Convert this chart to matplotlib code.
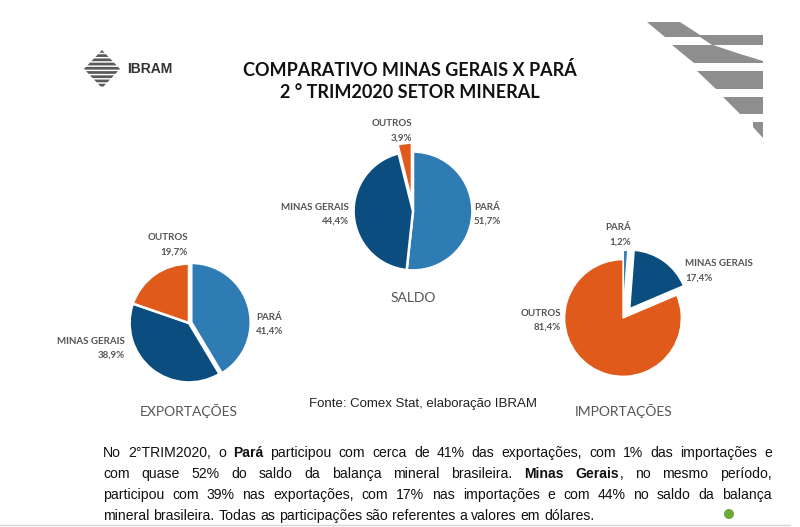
import matplotlib
matplotlib.use("Agg")
import matplotlib.pyplot as plt
from matplotlib.patches import Polygon, Circle

W, H = 800, 527

# dados (% de participação)
categorias = ["PARÁ", "MINAS GERAIS", "OUTROS"]
exportacoes = [41.4, 38.9, 19.7]
importacoes = [1.2, 17.4, 81.4]
saldo = [51.7, 44.4, 3.9]

CORES = ["#2f7bb3", "#0b4d7e", "#e05a1c"]
CINZA_TXT = "#555555"

fig = plt.figure(figsize=(W / 100, H / 100), dpi=100)
fig.patch.set_facecolor("white")


def px(x, y):
    return x / W, 1 - y / H


def ftext(x, y, s, **kw):
    return fig.text(*px(x, y), s, **kw)


def pie_ax(cx, cy, r):
    k = 1.35
    ax = fig.add_axes([(cx - k * r) / W, 1 - (cy + k * r) / H, 2 * k * r / W, 2 * k * r / H])
    ax.set_xlim(-k, k)
    ax.set_ylim(-k, k)
    ax.set_aspect("equal")
    ax.axis("off")
    return ax


def fmt(v):
    return f"{v:.1f}%".replace(".", ",")


def desenha_pizza(valores, cx, cy, r, explode, rotulos, titulo, tpos, lw=1.8):
    ax = pie_ax(cx, cy, r)
    ax.pie(valores, colors=CORES, startangle=90, counterclock=False, explode=explode,
           wedgeprops=dict(edgecolor="white", linewidth=lw))
    for i, (x, y, ha) in enumerate(rotulos):
        ftext(x, y, categorias[i], ha=ha, va="center", fontsize=7, color=CINZA_TXT,
              family="Lato", fontweight="bold")
        ftext(x, y + 14.5, fmt(valores[i]), ha=ha, va="center", fontsize=7, color=CINZA_TXT,
              family="Lato", fontweight="bold")
    ftext(tpos[0], tpos[1], titulo, ha="center", va="center", fontsize=10, color=CINZA_TXT,
          family="Lato")


# posições dos rótulos (x, y, alinhamento) na ordem: Pará, Minas Gerais, Outros
desenha_pizza(saldo, 413, 211, 55, [0.0, 0.0, 0.15],
              [(474, 207, "left"), (349, 207, "right"), (412, 124, "right")],
              "SALDO", (413, 298))
desenha_pizza(exportacoes, 189, 323, 55, [0.04, 0.0, 0.0],
              [(256, 317, "left"), (125, 341, "right"), (188, 238, "right")],
              "EXPORTAÇÕES", (189, 411))
desenha_pizza(importacoes, 623, 318, 54, [0.16, 0.2, 0.0],
              [(631, 228, "right"), (685, 264, "left"), (561, 313, "right")],
              "IMPORTAÇÕES", (624, 411), lw=1.0)

# título
ftext(410, 70, "COMPARATIVO MINAS GERAIS X PARÁ", ha="center", va="center",
      fontsize=13, fontweight="bold", family="Lato", color="#111111")
ftext(410, 92, "2 ° TRIM2020 SETOR MINERAL", ha="center", va="center",
      fontsize=13, fontweight="bold", family="Lato", color="#111111")

# logo IBRAM
deco = fig.add_axes([0, 0, 1, 1], zorder=-1)
deco.set_xlim(0, W)
deco.set_ylim(H, 0)
deco.axis("off")
lx, ly, hw, hh = 102, 69, 18, 19
n = 9
for i in range(n):
    y0 = ly - hh + i * 2 * hh / n
    y1 = y0 + 2 * hh / n * 0.65
    w0 = hw * (1 - abs(y0 - ly) / hh)
    w1 = hw * (1 - abs(y1 - ly) / hh)
    pts = [(lx - w0, y0), (lx + w0, y0)]
    if y0 < ly < y1:
        pts += [(lx + hw, ly)]
    pts += [(lx + w1, y1), (lx - w1, y1)]
    if y0 < ly < y1:
        pts += [(lx - hw, ly)]
    deco.add_patch(Polygon(pts, closed=True, facecolor="#5a5a5a", edgecolor="none"))
ftext(127, 69, "IBRAM", ha="left", va="center", fontsize=10, fontweight="bold",
      family="Liberation Sans", color="#333333")

# grafismo superior direito
cinza = "#8e8e8e"
formas = [
    [(647, 22), (680, 22), (700, 35), (763, 35), (763, 45), (712, 45), (700, 37), (665, 37)],
    [(672, 45), (713, 45), (740, 54), (763, 61), (763, 63), (694, 63)],
    [(697, 71), (763, 71), (763, 89), (716, 89)],
    [(723, 97), (763, 97), (763, 114), (740, 114)],
    [(753, 122), (763, 122), (763, 138), (753, 127)],
]
for f in formas:
    deco.add_patch(Polygon(f, closed=True, facecolor=cinza, edgecolor="none"))

# fonte
ftext(423, 404, "Fonte: Comex Stat, elaboração IBRAM", ha="center", va="center",
      fontsize=9.5, family="Liberation Sans", color="#222222")

# parágrafo justificado
linhas = [
    [("No 2°TRIM2020, o ", False), ("Pará", True),
     (" participou com cerca de 41% das exportações, com 1% das importações e", False)],
    [("com quase 52% do saldo da balança mineral brasileira. ", False), ("Minas Gerais", True),
     (", no mesmo período,", False)],
    [("participou com 39% nas exportações, com 17% nas importações e com 44% no saldo da balança", False)],
    [("mineral brasileira. Todas as participações são referentes a valores em dólares.", False)],
]
renderer = fig.canvas.get_renderer()
x_esq, x_dir, y0, passo = 103, 772, 453, 21
fs = 10.1


def palavras(segs):
    res, atual = [], []
    for txt, b in segs:
        partes = txt.split(" ")
        for j, p in enumerate(partes):
            if j > 0:
                if atual:
                    res.append(atual)
                atual = []
            if p:
                atual.append((p, b))
    if atual:
        res.append(atual)
    return res


def largura(s, b):
    t = fig.text(0, 0, s, fontsize=fs, family="Liberation Sans",
                 fontweight="bold" if b else "normal")
    w = t.get_window_extent(renderer).width
    t.remove()
    return w


esp = largura("a a", False) - 2 * largura("a", False)
for k, segs in enumerate(linhas):
    ws = palavras(segs)
    larg = [sum(largura(p, b) for p, b in w) for w in ws]
    if k < len(linhas) - 1:
        gap = (x_dir - x_esq - sum(larg)) / (len(ws) - 1)
    else:
        gap = esp
    x = x_esq
    y = y0 + k * passo
    for w, lw in zip(ws, larg):
        xx = x
        for p, b in w:
            ftext(xx, y, p, ha="left", va="center", fontsize=fs, family="Liberation Sans",
                  fontweight="bold" if b else "normal", color="#111111")
            xx += largura(p, b)
        x += lw + gap

# linha inferior e ponto verde
deco.plot([0, 790], [525, 525], color="#d5d5d5", linewidth=1)
deco.add_patch(Circle((729, 514), 5, facecolor="#6aaa3a", edgecolor="none"))

fig.savefig("out.png", dpi=100)
